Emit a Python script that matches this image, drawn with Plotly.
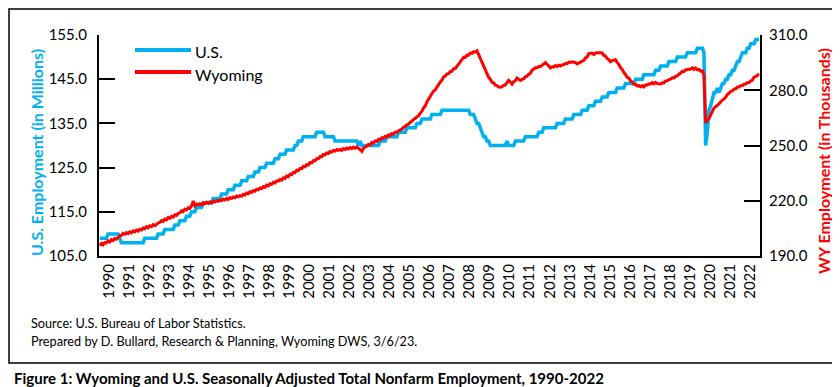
import pandas as pd
import plotly.graph_objects as go

# ---------------- data ----------------
years = list(range(1990, 2023))
year_labels = [str(y) for y in years]

# U.S. total nonfarm employment, seasonally adjusted (millions), monthly Jan 1990 - Dec 2022
us_employment = [
    109, 109, 109, 109, 109, 110, 110, 110, 110, 110, 110, 110,  # 1990
    109, 108, 108, 108, 108, 108, 108, 108, 108, 108, 108, 108,  # 1991
    108, 108, 108, 109, 109, 109, 109, 109, 109, 109, 109, 110,  # 1992
    110, 110, 110, 111, 111, 111, 111, 111, 111, 112, 112, 112,  # 1993
    113, 113, 113, 113, 114, 114, 114, 115, 115, 115, 116, 116,  # 1994
    116, 116, 117, 117, 117, 117, 117, 117, 118, 118, 118, 118,  # 1995
    118, 119, 119, 119, 119, 120, 120, 120, 120, 121, 121, 121,  # 1996
    121, 122, 122, 122, 122, 123, 123, 123, 123, 124, 124, 124,  # 1997
    125, 125, 125, 125, 126, 126, 126, 126, 126, 127, 127, 127,  # 1998
    128, 128, 128, 128, 129, 129, 129, 129, 129, 130, 130, 131,  # 1999
    131, 131, 132, 132, 132, 132, 132, 132, 132, 132, 133, 133,  # 2000
    133, 133, 133, 132, 132, 132, 132, 132, 132, 131, 131, 131,  # 2001
    131, 131, 131, 131, 131, 131, 131, 131, 131, 131, 131, 130,  # 2002
    131, 130, 130, 130, 130, 130, 130, 130, 130, 130, 130, 130,  # 2003
    131, 131, 131, 131, 132, 132, 132, 132, 132, 132, 132, 133,  # 2004
    133, 133, 133, 133, 134, 134, 134, 134, 134, 134, 135, 135,  # 2005
    135, 136, 136, 136, 136, 136, 136, 137, 137, 137, 137, 137,  # 2006
    137, 138, 138, 138, 138, 138, 138, 138, 138, 138, 138, 138,  # 2007
    138, 138, 138, 138, 138, 138, 137, 137, 137, 136, 135, 135,  # 2008
    134, 133, 132, 132, 131, 131, 130, 130, 130, 130, 130, 130,  # 2009
    130, 130, 130, 130, 131, 130, 130, 130, 130, 131, 131, 131,  # 2010
    131, 131, 131, 132, 132, 132, 132, 132, 132, 132, 132, 133,  # 2011
    133, 133, 134, 134, 134, 134, 134, 134, 134, 134, 135, 135,  # 2012
    135, 135, 135, 136, 136, 136, 136, 136, 137, 137, 137, 137,  # 2013
    137, 138, 138, 138, 138, 139, 139, 139, 139, 140, 140, 140,  # 2014
    140, 141, 141, 141, 141, 142, 142, 142, 142, 142, 143, 143,  # 2015
    143, 143, 143, 144, 144, 144, 144, 144, 144, 145, 145, 145,  # 2016
    145, 145, 146, 146, 146, 146, 146, 146, 146, 147, 147, 147,  # 2017
    148, 148, 148, 148, 148, 149, 149, 149, 149, 149, 150, 150,  # 2018
    150, 150, 150, 150, 151, 151, 151, 151, 151, 151, 152, 152,  # 2019
    152, 152, 151, 130, 133, 138, 139, 141, 142, 142, 143, 142,  # 2020
    143, 144, 144, 145, 145, 146, 146, 147, 147, 148, 149, 149,  # 2021
    150, 151, 151, 151, 152, 152, 153, 153, 153, 154, 154, 154,  # 2022
]

# Wyoming total nonfarm employment, seasonally adjusted (thousands), monthly Jan 1990 - Dec 2022
wy_employment = [
    195.6, 196.8, 196.1, 197.3, 197.0, 198.2, 197.6, 198.9, 198.4, 199.6, 199.1, 200.3,  # 1990
    200.9, 201.2, 202.3, 201.8, 202.7, 202.2, 203.1, 202.6, 203.6, 203.1, 204.0, 203.5,  # 1991
    204.5, 204.1, 205.2, 204.8, 205.9, 205.3, 206.4, 205.9, 207.0, 206.5, 207.4, 207.9,  # 1992
    208.3, 209.2, 208.8, 210.0, 209.6, 210.9, 210.4, 211.5, 211.1, 212.4, 212.0, 213.1,  # 1993
    213.5, 214.5, 214.1, 215.4, 215.0, 216.2, 215.8, 217.2, 219.9, 217.3, 218.2, 217.7,  # 1994
    218.4, 217.8, 218.9, 218.3, 219.2, 218.6, 219.4, 218.9, 219.8, 219.3, 220.1, 219.7,  # 1995
    220.4, 220.0, 220.9, 220.4, 221.3, 220.8, 221.7, 221.2, 222.0, 221.6, 222.5, 222.1,  # 1996
    222.8, 222.5, 223.5, 223.1, 224.2, 223.8, 224.9, 224.5, 225.5, 225.2, 226.3, 226.0,  # 1997
    226.9, 226.6, 227.7, 227.3, 228.5, 228.1, 229.2, 228.9, 230.0, 229.7, 230.8, 230.6,  # 1998
    231.5, 231.2, 232.4, 232.1, 233.4, 233.1, 234.4, 234.2, 235.4, 235.3, 236.6, 236.4,  # 1999
    237.6, 237.4, 238.6, 238.4, 239.6, 239.4, 240.7, 240.6, 241.8, 241.7, 242.9, 242.8,  # 2000
    244.0, 243.9, 245.1, 244.9, 246.0, 245.7, 246.7, 246.4, 247.3, 247.0, 247.8, 247.4,  # 2001
    247.9, 247.4, 248.3, 247.8, 248.6, 248.1, 248.9, 248.3, 249.1, 248.5, 249.2, 248.6,  # 2002
    247.8, 246.8, 248.4, 249.2, 249.6, 250.6, 250.3, 251.6, 251.3, 252.5, 252.2, 253.3,  # 2003
    253.1, 254.2, 253.9, 255.0, 254.6, 255.8, 255.4, 256.5, 256.2, 257.3, 257.1, 258.0,  # 2004
    258.5, 258.9, 259.9, 260.3, 261.2, 261.6, 262.6, 263.1, 264.1, 264.6, 265.6, 266.1,  # 2005
    267.6, 268.6, 270.4, 271.4, 273.6, 275.1, 277.2, 278.0, 279.6, 280.2, 281.9, 282.7,  # 2006
    284.5, 285.5, 287.2, 287.6, 288.9, 289.0, 290.2, 290.3, 291.7, 291.8, 293.1, 293.7,  # 2007
    295.6, 296.4, 297.9, 297.8, 299.1, 299.0, 300.2, 300.0, 300.9, 300.7, 301.4, 299.4,  # 2008
    297.4, 295.0, 293.6, 290.9, 289.6, 287.0, 286.0, 284.3, 284.0, 282.7, 282.5, 281.7,  # 2009
    281.6, 281.9, 282.6, 282.9, 284.1, 285.4, 284.5, 283.3, 284.7, 285.2, 286.6, 285.8,  # 2010
    285.3, 285.9, 286.1, 287.3, 287.6, 288.7, 289.2, 290.8, 291.5, 292.2, 292.2, 293.0,  # 2011
    292.8, 293.5, 293.9, 295.0, 294.0, 293.3, 292.1, 292.8, 292.7, 293.4, 292.9, 293.6,  # 2012
    293.2, 293.8, 293.8, 294.6, 294.4, 295.3, 295.1, 295.4, 295.2, 295.0, 294.3, 294.8,  # 2013
    295.1, 296.0, 296.2, 297.5, 298.0, 299.9, 300.1, 300.2, 299.4, 300.2, 300.3, 300.5,  # 2014
    300.4, 300.3, 299.0, 298.6, 297.3, 296.7, 295.5, 296.1, 296.4, 296.6, 295.1, 294.1,  # 2015
    292.2, 291.3, 289.6, 288.6, 287.0, 286.6, 285.2, 284.5, 283.2, 283.2, 282.4, 282.5,  # 2016
    281.9, 282.5, 281.8, 282.8, 282.8, 283.5, 283.4, 284.1, 283.5, 284.3, 283.6, 283.7,  # 2017
    283.4, 284.1, 284.0, 285.0, 285.1, 285.8, 286.0, 286.8, 286.7, 287.6, 287.8, 288.8,  # 2018
    289.2, 290.3, 290.1, 291.0, 291.2, 291.4, 291.5, 292.2, 291.3, 292.1, 291.2, 291.3,  # 2019
    290.4, 290.5, 288.2, 262.2, 263.8, 264.6, 266.9, 268.5, 270.4, 271.1, 272.2, 272.6,  # 2020
    273.8, 274.7, 275.8, 276.2, 277.7, 278.3, 279.4, 279.6, 280.6, 280.8, 281.8, 281.8,  # 2021
    282.5, 282.6, 283.3, 283.4, 284.2, 284.1, 285.0, 285.5, 287.1, 287.4, 288.2, 288.8,  # 2022
]

us_ticks = [105, 115, 125, 135, 145, 155]
wy_ticks = [190, 220, 250, 280, 310]

# ---------------- figure ----------------
months = pd.date_range("1990-01-01", periods=len(us_employment), freq="MS") + pd.Timedelta(days=14)

BLUE = "#00B0F0"
RED = "#FF0000"
FONT = "Lato"

W, H = 840, 387
L, R, T, B = 91, 88, 27, 139
pw, ph = W - L - R, H - T - B


def px(x):
    return (x - L) / pw


def py(y):
    return (H - B - y) / ph


fig = go.Figure()
fig.add_trace(go.Scatter(x=months, y=us_employment, name="U.S.", mode="lines",
                         line=dict(color=BLUE, width=3.5), yaxis="y"))
fig.add_trace(go.Scatter(x=months, y=wy_employment, name="Wyoming", mode="lines",
                         line=dict(color=RED, width=3), yaxis="y2"))

tick_font = dict(family=FONT, size=15, color="black")

fig.update_layout(
    width=W, height=H,
    margin=dict(l=L, r=R, t=T, b=B),
    paper_bgcolor="white", plot_bgcolor="white",
    showlegend=False,
    xaxis=dict(
        type="date",
        range=["1990-01-01", "2023-01-01"],
        tickvals=[f"{y}-07-01" for y in years],
        ticktext=year_labels,
        tickangle=-90,
        tickfont=tick_font,
        showgrid=False, zeroline=False,
        showline=True, linecolor="black", linewidth=2,
        ticks="",
    ),
    yaxis=dict(
        range=[105, 155],
        tickvals=us_ticks,
        tickformat=".1f",
        tickfont=tick_font,
        showgrid=False, zeroline=False,
        showline=True, linecolor="black", linewidth=2,
        ticks="inside", ticklen=16, tickwidth=2, tickcolor="black",
        ticklabelstandoff=7,
    ),
    yaxis2=dict(
        range=[190, 310],
        tickvals=wy_ticks,
        tickformat=".1f",
        tickfont=tick_font,
        overlaying="y", side="right",
        showgrid=False, zeroline=False,
        showline=True, linecolor="black", linewidth=2,
        ticks="inside", ticklen=16, tickwidth=2, tickcolor="black",
        ticklabelstandoff=4,
    ),
)

# outer border
fig.add_shape(type="rect", xref="paper", yref="paper",
              x0=px(1), x1=px(838), y0=py(355), y1=py(1),
              line=dict(color="black", width=1.5), layer="below")

# legend (drawn)
for yy, col in [(42, BLUE), (64, RED)]:
    fig.add_shape(type="line", xref="paper", yref="paper",
                  x0=px(127), x1=px(183), y0=py(yy), y1=py(yy),
                  line=dict(color=col, width=4))

ann = []
ann.append(dict(text="U.S.", x=px(185), y=py(44), xanchor="left", yanchor="middle",
                font=dict(family=FONT, size=16, color="black")))
ann.append(dict(text="Wyoming", x=px(185), y=py(66), xanchor="left", yanchor="middle",
                font=dict(family=FONT, size=16, color="black")))
# axis titles
ann.append(dict(text="<b>U.S. Employment (in Millions)</b>", x=px(28), y=py(145),
                textangle=-90, xanchor="center", yanchor="middle",
                font=dict(family=FONT, size=16, color=BLUE)))
ann.append(dict(text="<b>WY Employment (in Thousands)</b>", x=px(815), y=py(153),
                textangle=-90, xanchor="center", yanchor="middle",
                font=dict(family=FONT, size=16, color=RED)))
# source notes
ann.append(dict(text="Source: U.S. Bureau of Labor Statistics.", x=px(21), y=py(315),
                xanchor="left", yanchor="middle",
                font=dict(family=FONT, size=12.7, color="black")))
ann.append(dict(text="Prepared by D. Bullard, Research & Planning, Wyoming DWS, 3/6/23.",
                x=px(21), y=py(333), xanchor="left", yanchor="middle",
                font=dict(family=FONT, size=12.7, color="black")))
# caption
ann.append(dict(text="<b>Figure 1: Wyoming and U.S. Seasonally Adjusted Total Nonfarm Employment, 1990-2022</b>",
                x=px(4), y=py(370), xanchor="left", yanchor="middle",
                font=dict(family=FONT, size=15, color="black")))

for a in ann:
    a.update(xref="paper", yref="paper", showarrow=False)
fig.update_layout(annotations=ann)

fig.write_html("out.html")
